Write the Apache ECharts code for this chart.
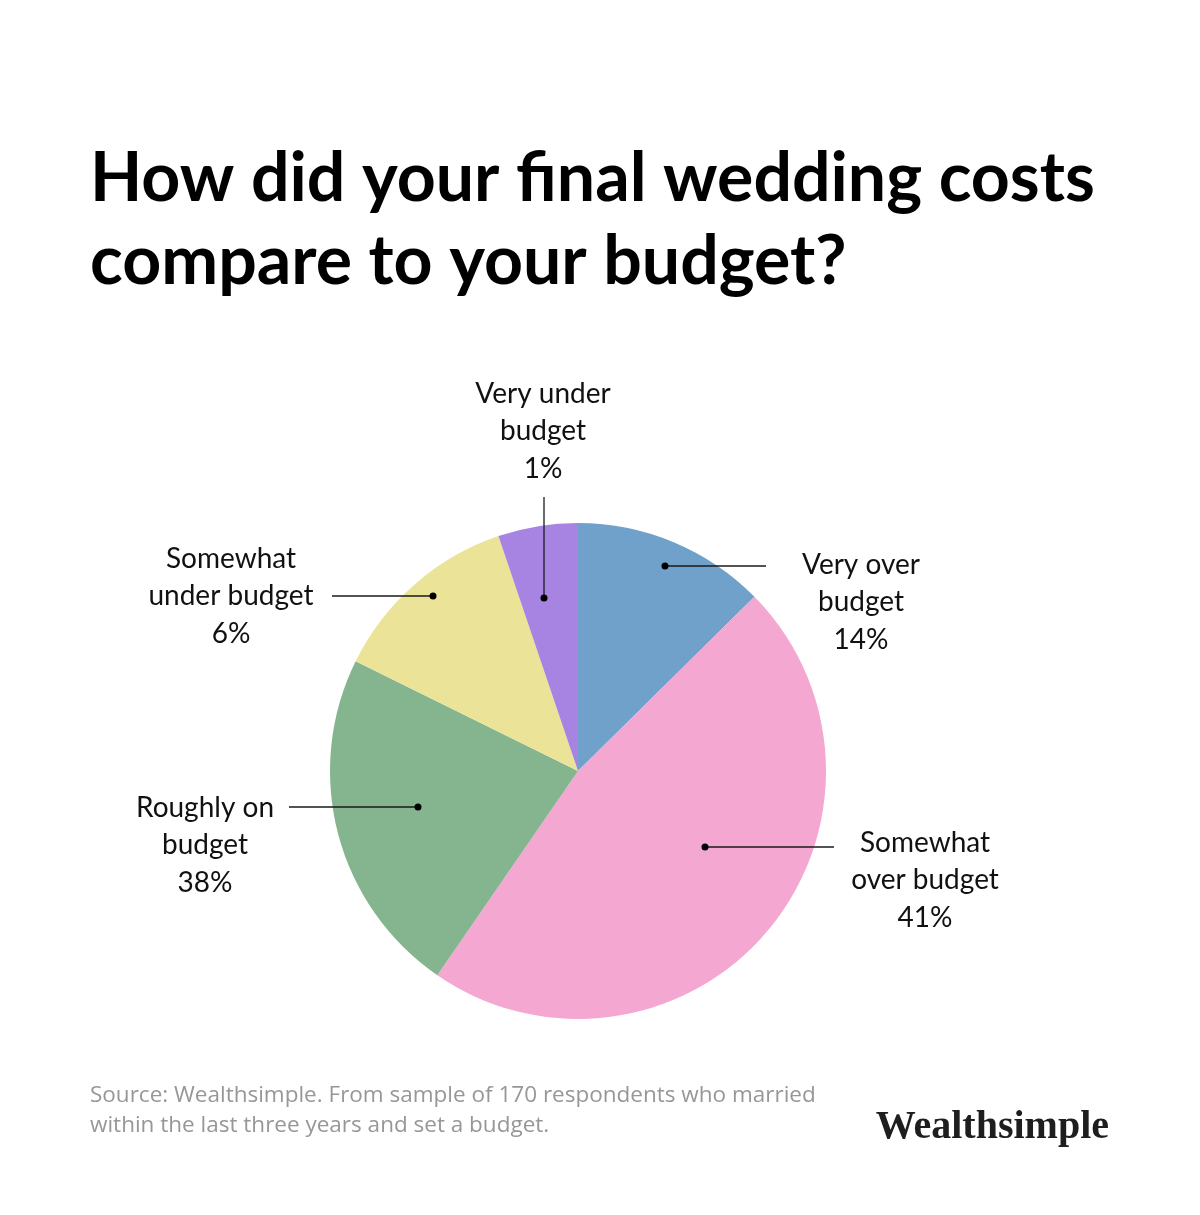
<!DOCTYPE html>
<html>
<head>
<meta charset="utf-8">
<script src="https://cdn.jsdelivr.net/npm/echarts@6/dist/echarts.min.js"></script>
<style>
  html, body { margin: 0; padding: 0; background: #fff; }
  #chart { width: 1200px; height: 1215px; }
</style>
</head>
<body>
<div id="chart"></div>
<script>
const categories = ["Very over budget", "Somewhat over budget", "Roughly on budget", "Somewhat under budget", "Very under budget"];
const labelNames = ["Very over\nbudget", "Somewhat\nover budget", "Roughly on\nbudget", "Somewhat\nunder budget", "Very under\nbudget"];
const reportedPercents = [14, 41, 38, 6, 1];
// slice sizes as they are drawn in the picture (the drawing does not follow the printed percents)
const sliceShares = [12.6, 47.0, 22.7, 12.5, 5.2];

const sliceColors = ["#6fa1ca", "#f3a7d1", "#85b58f", "#ebe498", "#a884e2"];
const TEXT_FONT = "Lato";

// leader lines: dot inside the slice, end of the line, centre of the label block
const leaders = [
  { dot: [665, 566], end: [766, 566], text: [861, 602] },
  { dot: [705, 847], end: [834, 847], text: [925, 880] },
  { dot: [418, 807], end: [289, 807], text: [205, 845] },
  { dot: [433, 596], end: [332, 596], text: [231, 596] },
  { dot: [544, 598], end: [544, 497], text: [543, 431] },
];

const chart = echarts.init(document.getElementById("chart"), null, { renderer: "canvas" });

const pieData = categories.map((name, i) => ({
  name,
  value: sliceShares[i],
  itemStyle: { color: sliceColors[i] },
  label: { formatter: labelNames[i] + "\n" + reportedPercents[i] + "%" },
}));

// pie guide lines end up under the sectors, so the leaders are drawn on top as graphics
const leaderGraphics = [];
leaders.forEach((l) => {
  leaderGraphics.push({
    type: "line",
    z: 100,
    shape: { x1: l.dot[0], y1: l.dot[1], x2: l.end[0], y2: l.end[1] },
    style: { stroke: "#1a1a1a", lineWidth: 1.3 },
  });
  leaderGraphics.push({
    type: "circle",
    z: 101,
    shape: { cx: l.dot[0], cy: l.dot[1], r: 3.5 },
    style: { fill: "#000" },
  });
});

chart.setOption({
  backgroundColor: "#fff",
  animation: false,
  title: [
    {
      text: "How did your final wedding costs\ncompare to your budget?",
      left: 85,
      top: 133,
      textStyle: { fontFamily: TEXT_FONT, fontSize: 68, fontWeight: "bold", lineHeight: 83, color: "#000" },
    },
    {
      text: "Source: Wealthsimple. From sample of 170 respondents who married\nwithin the last three years and set a budget.",
      left: 85,
      top: 1076,
      textStyle: { fontFamily: "Open Sans", fontSize: 22.5, fontWeight: "normal", lineHeight: 30, color: "#979797" },
    },
    {
      text: "Wealthsimple",
      right: 86,
      top: 1103,
      textStyle: { fontFamily: "Liberation Serif", fontSize: 40, fontWeight: "bold", lineHeight: 40, color: "#1e1e1e" },
    },
  ],
  series: [
    {
      type: "pie",
      center: [578, 771],
      radius: 248,
      startAngle: 90,
      clockwise: true,
      avoidLabelOverlap: false,
      silent: true,
      data: pieData,
      label: {
        show: true,
        position: "outside",
        fontFamily: TEXT_FONT,
        fontSize: 28,
        lineHeight: 37.5,
        color: "#111",
        align: "center",
      },
      labelLine: { show: false },
      labelLayout: (params) => {
        const l = leaders[params.dataIndex];
        return {
          x: l.text[0],
          y: l.text[1],
          align: "center",
          verticalAlign: "middle",
        };
      },
    },
  ],
  graphic: leaderGraphics,
});
</script>
</body>
</html>
